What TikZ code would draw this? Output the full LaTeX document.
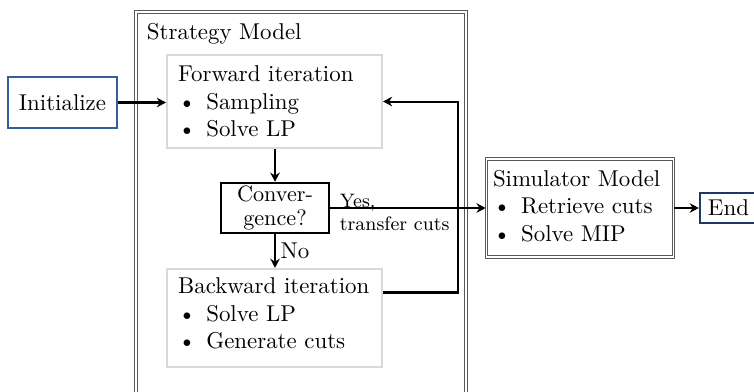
\documentclass[tikz,border=0pt]{standalone}
\usepackage{amsfonts,amssymb,amsmath}
\usepackage{xcolor}
\usepackage{tikz}
\usetikzlibrary{arrows.meta,positioning}
\definecolor{initblue}{RGB}{52,95,155}
\definecolor{endblue}{RGB}{31,56,100}
\newcommand{\bitem}[1]{\makebox[12.3pt][l]{\textbullet}#1}
\newcommand{\lowpad}[1]{\rule[-#1]{0pt}{#1}}
\begin{document}
\begin{tikzpicture}[>={Stealth[length=4pt,width=4.2pt]},
flow/.style={->,line width=0.9pt},
modelbox/.style={draw=gray!70!black,double=white,double distance=0.5pt,line width=0.45pt},
initbox/.style={draw=initblue,line width=1pt,minimum width=1.674cm,minimum height=0.783cm},
iterbox/.style={draw=black!15,line width=1pt,text width=84.2pt,inner xsep=4.8pt,align=left,minimum height=#1},
decbox/.style={draw,line width=1.1pt,minimum width=1.658cm,minimum height=0.768cm,inner sep=1pt,align=center,font=\fontsize{9.7}{10.5}\selectfont},
endbox/.style={draw=endblue,line width=1pt,minimum width=0.875cm,minimum height=0.4cm,inner sep=3pt},
lbl/.style={font=\fontsize{8.5}{10}\selectfont,align=left}]
\useasboundingbox(0,0)rectangle(11.578,-6.019);
\node[modelbox,minimum width=5.067cm,minimum height=6.572cm](strat)at(4.622,-3.470){};
\node[anchor=north west,inner sep=0pt]at([shift={(0.169cm,-0.169cm)}]strat.north west){Strategy Model};
\node[initbox](init)at(0.960,-1.574){Initialize};
\node[iterbox=1.428cm](fwd)at(4.215,-1.559){Forward iteration\\\bitem{Sampling}\\\bitem{Solve LP}};
\node[decbox](conv)at(4.223,-3.194){Conver-\\gence?};
\node[iterbox=1.505cm](bwd)at(4.215,-4.883){Backward iteration\\\bitem{Solve LP}\\\bitem{Generate cuts}\lowpad{4pt}};
\node[modelbox,text width=76pt,inner xsep=3pt,align=left,minimum width=2.856cm,minimum height=1.505cm](sim)at(8.906,-3.194){Simulator Model\\\bitem{Retrieve cuts}\\\bitem{Solve MIP}\lowpad{2pt}};
\node[endbox](end)at(11.186,-3.194){End};
\coordinate(loop)at([xshift=1.152cm]fwd.east);
\draw[flow](init.east)--(init.east-|fwd.west);
\draw[flow](fwd.south-|conv.north)--(conv.north);
\draw[flow](conv.south)--(bwd.north-|conv.south)node[midway,right,inner sep=2pt]{No};
\draw[flow]([yshift=0.392cm]bwd.east)-|(loop)--(fwd.east);
\draw[flow](conv.east)--(sim.west);
\node[lbl,anchor=west,inner sep=1pt]at([shift={(3pt,-2pt)}]conv.east){Yes,\\transfer cuts};
\draw[flow](sim.east)--(end.west);
\end{tikzpicture}
\end{document}
